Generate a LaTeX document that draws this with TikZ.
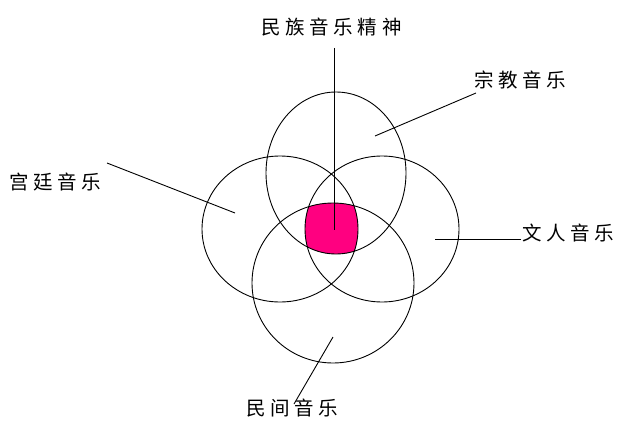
\documentclass[tikz,border=0pt]{standalone}
\usepackage{fontspec}
\newfontfamily\cjk[LetterSpace=24]{Noto Sans CJK SC}
\begin{document}
\begin{tikzpicture}[x=1pt,y=-1pt,
  ring/.style={draw=black,line width=0.9pt},
  leader/.style={draw=black,line width=0.9pt},
  lbl/.style={inner sep=0pt,anchor=west,font=\cjk\fontsize{19.5}{19.5}\selectfont}]
\useasboundingbox (0,0) rectangle (623,420);
% central intersection fill
\begin{scope}
  \clip (336,173) ellipse [x radius=70,y radius=81];
  \clip (280,229) ellipse [x radius=78,y radius=73];
  \clip (382,229) ellipse [x radius=77,y radius=73];
  \clip (333,283) ellipse [x radius=81,y radius=80];
  \fill[fill={rgb,255:red,255;green,0;blue,128}] (200,150) rectangle (460,300);
\end{scope}
\draw[ring] (336,173) ellipse [x radius=70,y radius=81];
\draw[ring] (280,229) ellipse [x radius=78,y radius=73];
\draw[ring] (382,229) ellipse [x radius=77,y radius=73];
\draw[ring] (333,283) ellipse [x radius=81,y radius=80];
% labels
\node[lbl] (mz) at (261,27) {民族音乐精神};
\node[lbl] (zj) at (474,80) {宗教音乐};
\node[lbl] (gt) at (9,182) {宫廷音乐};
\node[lbl] (wr) at (522,233) {文人音乐};
\node[lbl] (mj) at (246,408) {民间音乐};
% leader endpoints
\coordinate (c0) at (334,230);
\coordinate (c1) at (375,136);
\coordinate (c2) at (235,213);
\coordinate (c3) at (435,239);
\coordinate (c4) at (333,337);
\coordinate (e0) at (334,48);
\coordinate (e1) at (476,93);
\coordinate (e2) at (107,163);
\coordinate (e3) at (521,239);
\coordinate (e4) at (294,404);
\draw[leader] (e0) -- (c0);
\draw[leader] (e1) -- (c1);
\draw[leader] (e2) -- (c2);
\draw[leader] (e3) -- (c3);
\draw[leader] (e4) -- (c4);
\end{tikzpicture}
\end{document}
